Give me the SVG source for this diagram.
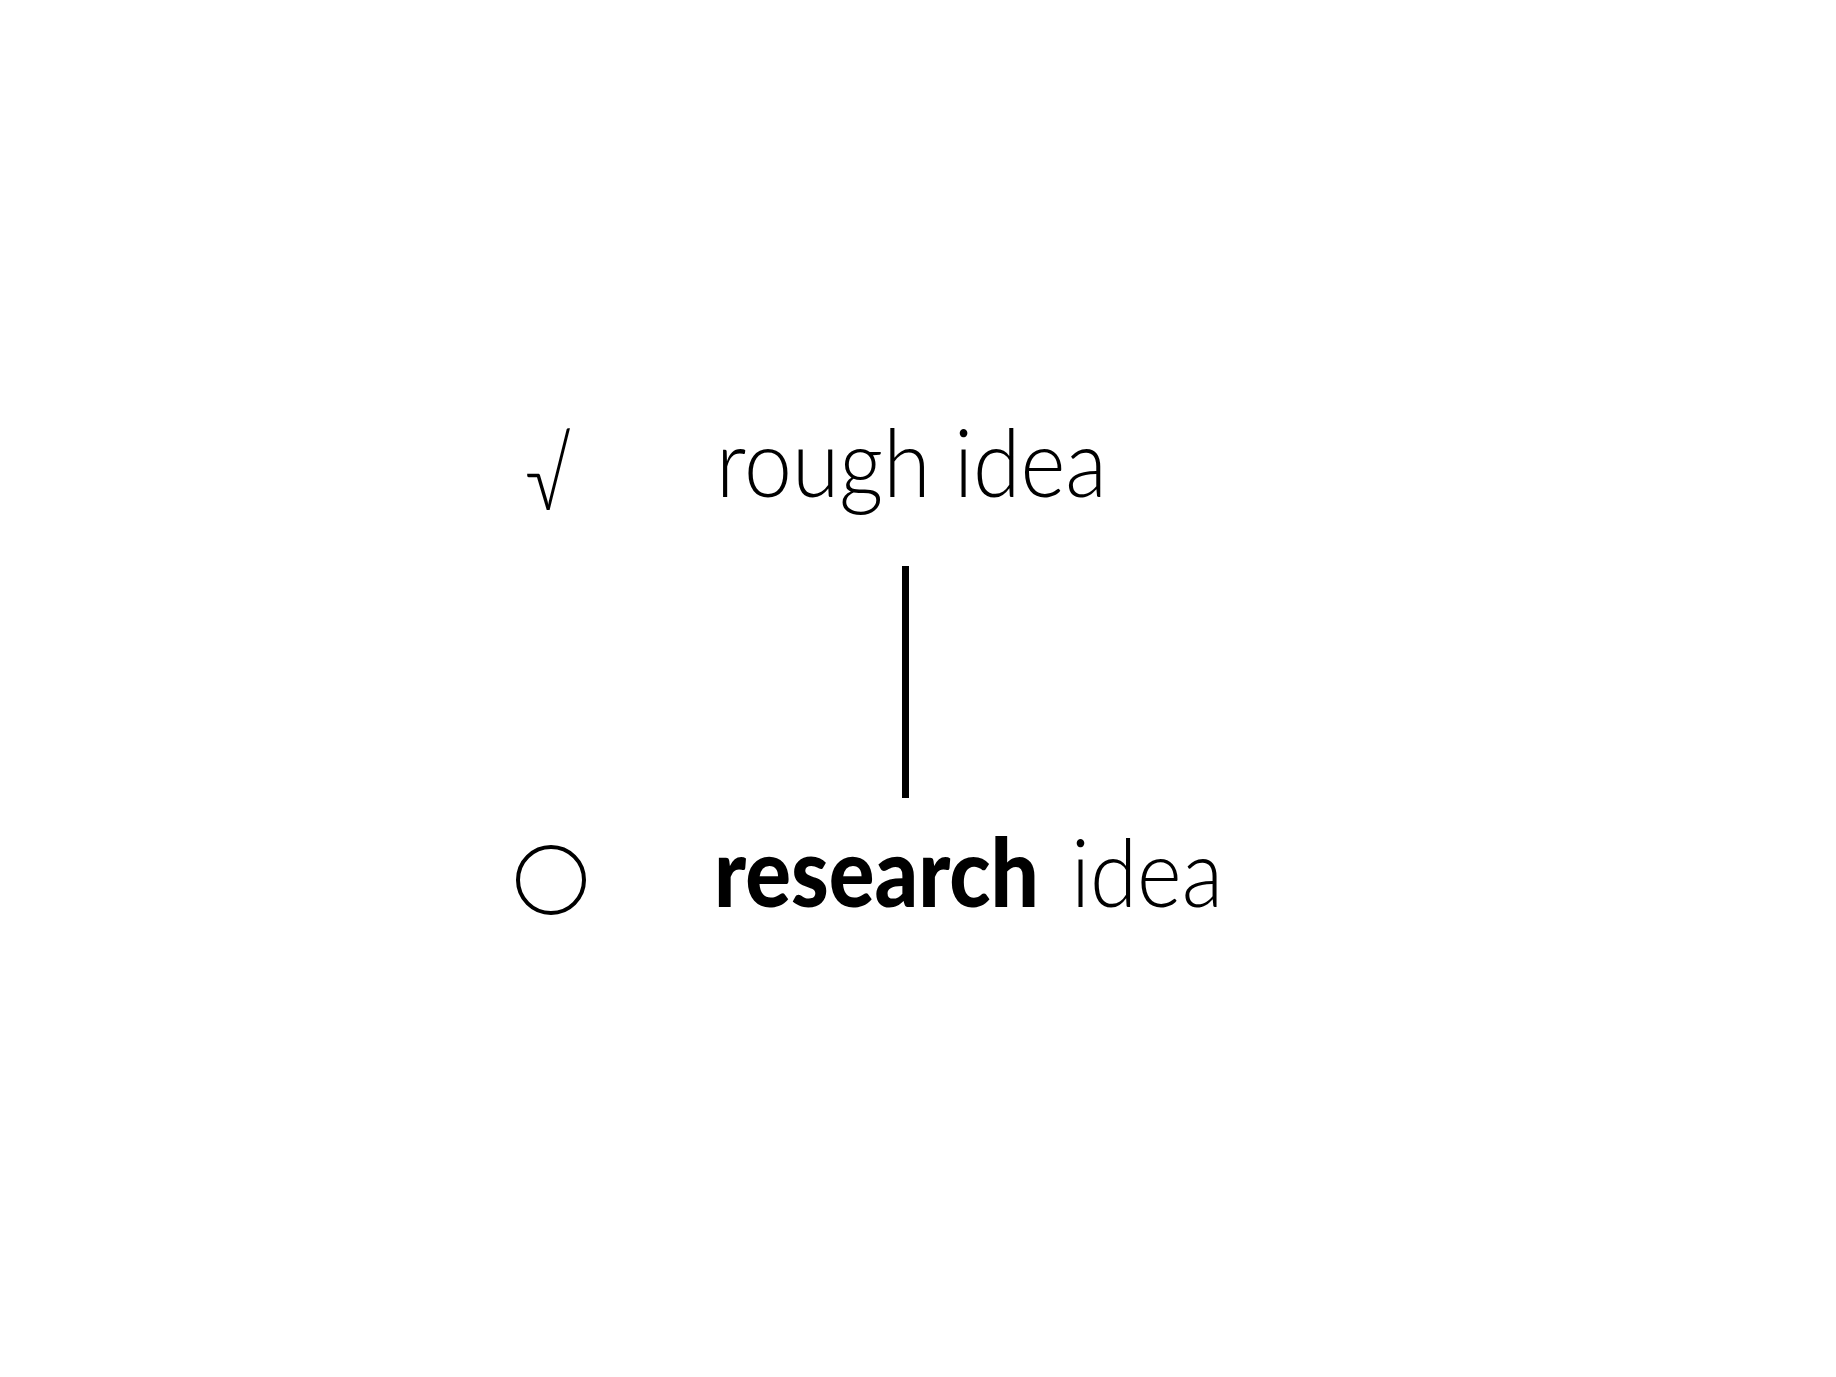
<svg xmlns="http://www.w3.org/2000/svg" width="1836" height="1377" viewBox="0 0 1836 1377">
<style>
.t{font-family:Lato,"Noto Sans","Liberation Sans",sans-serif;font-size:95px;fill:#000}
.l{font-weight:300}
.b{font-weight:900}
</style>
<rect width="1836" height="1377" fill="#fff"/>
<g id="node-rough">
<text class="t l" x="525" y="510" font-family="DejaVu Sans" textLength="46" lengthAdjust="spacingAndGlyphs">√</text>
<text class="t l" x="716" y="497" textLength="391" lengthAdjust="spacingAndGlyphs">rough idea</text>
</g>
<g id="node-research">
<circle cx="551" cy="880" r="33" fill="none" stroke="#000" stroke-width="4"/>
<text class="t b" x="714" y="907" textLength="325" lengthAdjust="spacingAndGlyphs">research</text>
<text class="t l" x="1071" y="907" textLength="152" lengthAdjust="spacingAndGlyphs">idea</text>
</g>
<g id="connectors">
<line x1="905.5" y1="566" x2="905.5" y2="798" stroke="#000" stroke-width="7"/>
</g>
</svg>
